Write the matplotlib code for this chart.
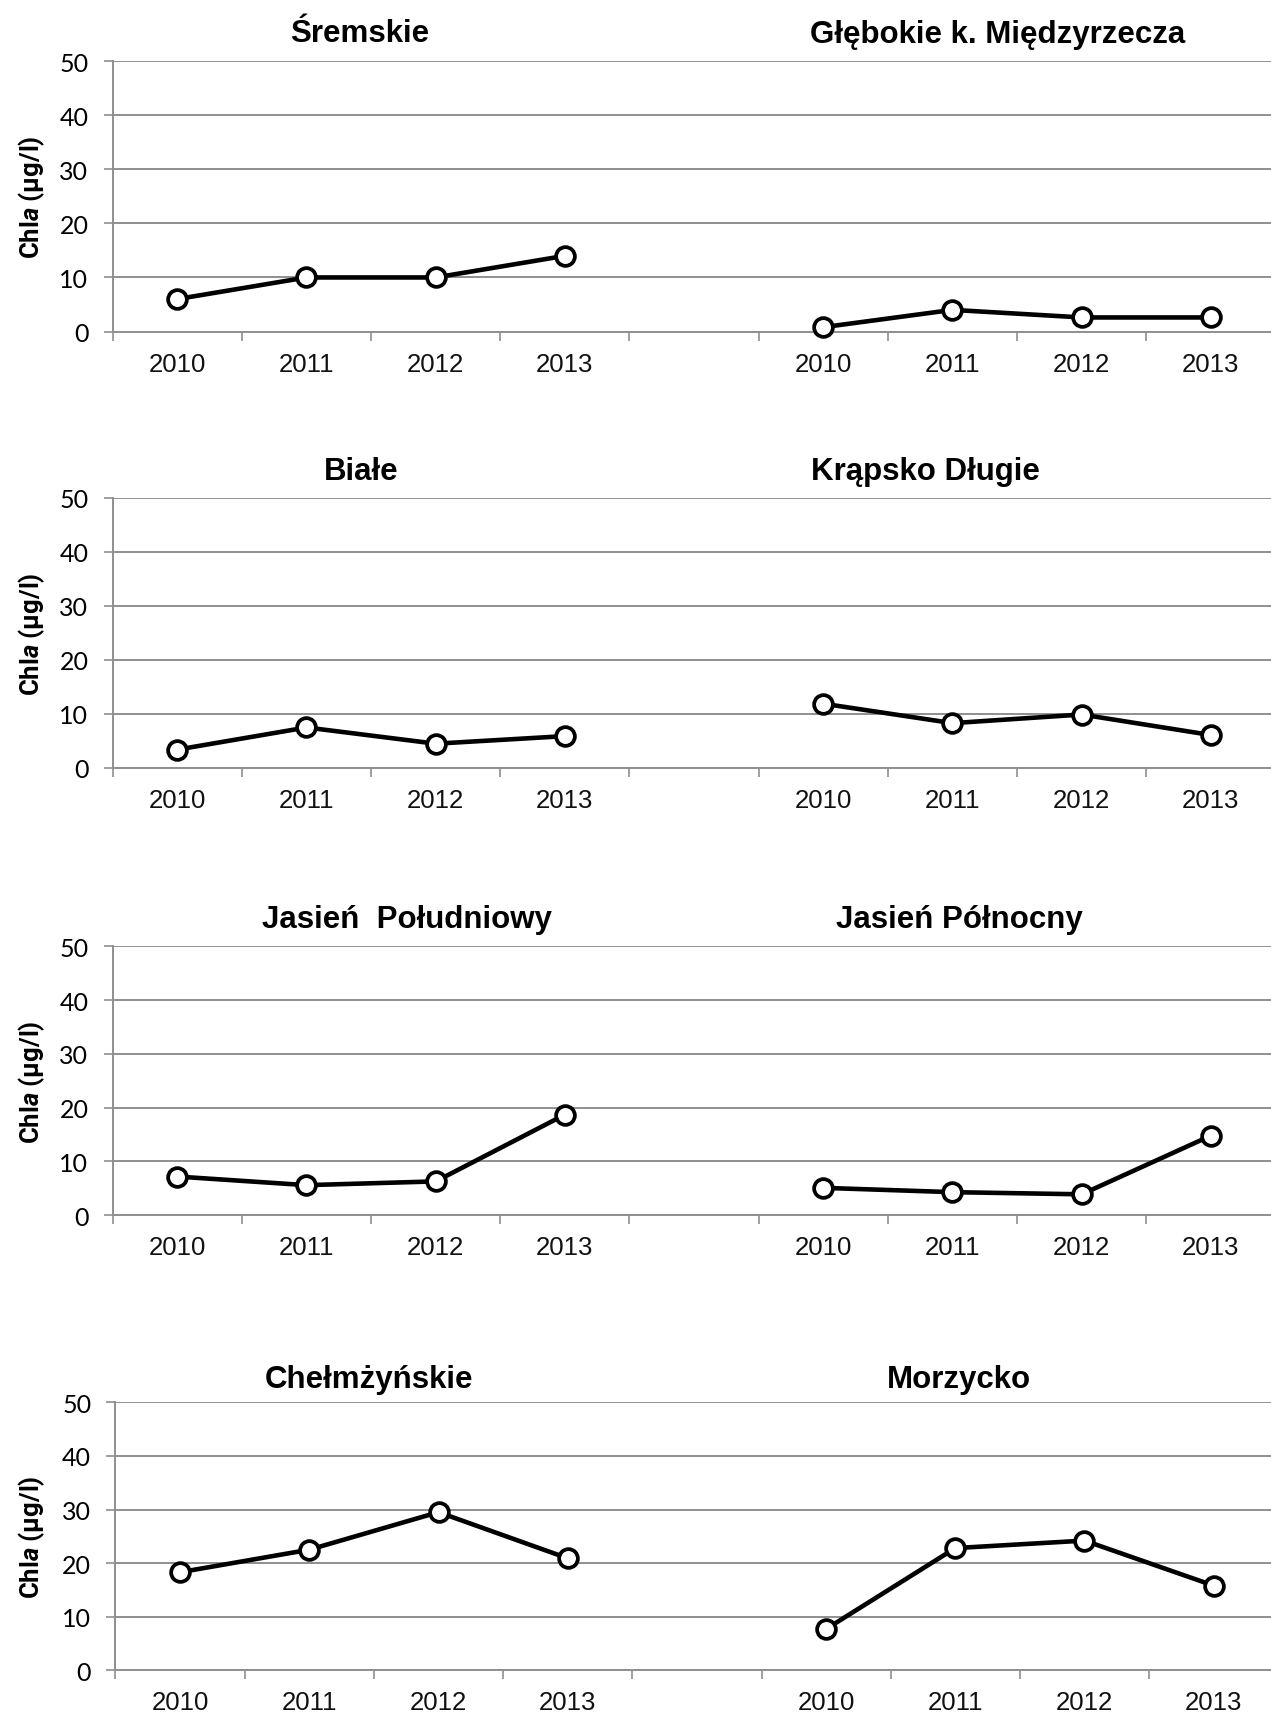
import matplotlib
matplotlib.use("Agg")
import matplotlib.pyplot as plt
from matplotlib.ticker import FixedLocator, NullFormatter

plt.rcParams['mathtext.fontset'] = 'custom'
plt.rcParams['mathtext.rm'] = 'Roboto:bold'
plt.rcParams['mathtext.bfit'] = 'Roboto:bold:italic'
plt.rcParams['mathtext.it'] = 'Roboto:bold:italic'

# ---- data -------------------------------------------------------------
years = ["2010", "2011", "2012", "2013"]

lakes_left = ["Śremskie", "Białe", "Jasień  Południowy", "Chełmżyńskie"]
lakes_right = ["Głębokie k. Międzyrzecza", "Krąpsko Długie", "Jasień Północny", "Morzycko"]

sremskie = [6.0, 10.0, 10.0, 14.0]
glebokie = [0.8, 4.0, 2.6, 2.6]
biale = [3.4, 7.5, 4.5, 5.9]
krapsko = [11.9, 8.3, 9.9, 6.1]
jasien_pld = [7.2, 5.6, 6.3, 18.7]
jasien_pln = [5.1, 4.3, 3.9, 14.8]
chelmzynskie = [18.3, 22.5, 29.5, 20.9]
morzycko = [7.7, 22.8, 24.2, 15.8]

left_values = [sremskie, biale, jasien_pld, chelmzynskie]
right_values = [glebokie, krapsko, jasien_pln, morzycko]

y_ticks = [0, 10, 20, 30, 40, 50]

# ---- layout (pixels) --------------------------------------------------
W, H = 1271, 1715
fig = plt.figure(figsize=(W / 100, H / 100), dpi=100)

row_top = [62.3, 498.8, 947.2, 1403.3]
row_bot = [332.5, 769.0, 1216.3, 1671.3]
row_left = [112.7, 112.7, 112.7, 115.5]
cat_w = 129.2
n_cat = 9

title_y = [34.5, 472.0, 920.5, 1380.0]
title_x_left = [359.9, 361.0, 406.9, 368.6]
title_x_right = [997.5, 925.4, 959.3, 959.3]

grid_col = "#8f8f8f"

for r in range(4):
    left = row_left[r] / W
    bottom = 1 - row_bot[r] / H
    width = n_cat * cat_w / W
    height = (row_bot[r] - row_top[r]) / H
    ax = fig.add_axes([left, bottom, width, height])

    # categories: 4 years, a blank slot, then 4 years again
    labels = years + [""] + years
    centers = [i + 0.5 for i in range(n_cat)]
    ax.set_xlim(0, n_cat)
    ax.set_ylim(0, 50)

    x_left = centers[:4]
    x_right = centers[5:]
    for xs, vals in ((x_left, left_values[r]), (x_right, right_values[r])):
        ax.plot(xs, vals, color="black", lw=3.3, marker="o", ms=13.5,
                mfc="white", mec="black", mew=2.7, zorder=5, clip_on=False)

    ax.set_yticks(y_ticks)
    ax.yaxis.grid(True, color=grid_col, lw=1.4)
    ax.set_axisbelow(True)
    ax.tick_params(axis="y", direction="out", length=6.5, width=1.2,
                   color=grid_col, pad=11, labelsize=18, labelcolor="#000000")
    for lab in ax.get_yticklabels():
        lab.set_fontfamily("Lato")

    ax.xaxis.set_major_locator(FixedLocator(list(range(n_cat))))
    ax.xaxis.set_major_formatter(NullFormatter())
    ax.xaxis.set_minor_locator(FixedLocator(centers))
    ax.set_xticklabels(labels, minor=True)
    ax.tick_params(axis="x", which="major", direction="out", length=6.5,
                   width=1.2, color=grid_col)
    ax.tick_params(axis="x", which="minor", length=0, pad=14.5,
                   labelsize=18.5, labelcolor="#111111")
    for lab in ax.get_xticklabels(minor=True):
        lab.set_fontfamily("Liberation Sans")

    for s in ("top", "right"):
        ax.spines[s].set_visible(False)
    for s in ("left", "bottom"):
        ax.spines[s].set_color(grid_col)
        ax.spines[s].set_linewidth(1.4)

    # y axis label
    fig.text(32.0 / W, 1 - (row_top[r] + row_bot[r]) / 2 / H,
             r"Chl$\mathbfit{a}$ (µg/l)", rotation=90, ha="center",
             va="center", fontsize=18.5, fontfamily="Roboto", fontweight="bold")

    # panel titles
    fig.text(title_x_left[r] / W, 1 - title_y[r] / H, lakes_left[r],
             ha="center", va="center", fontsize=22.5, fontweight="bold",
             fontfamily="Liberation Sans")
    fig.text(title_x_right[r] / W, 1 - title_y[r] / H, lakes_right[r],
             ha="center", va="center", fontsize=22.5, fontweight="bold",
             fontfamily="Liberation Sans")

fig.savefig("out.png", dpi=100, facecolor="white")
